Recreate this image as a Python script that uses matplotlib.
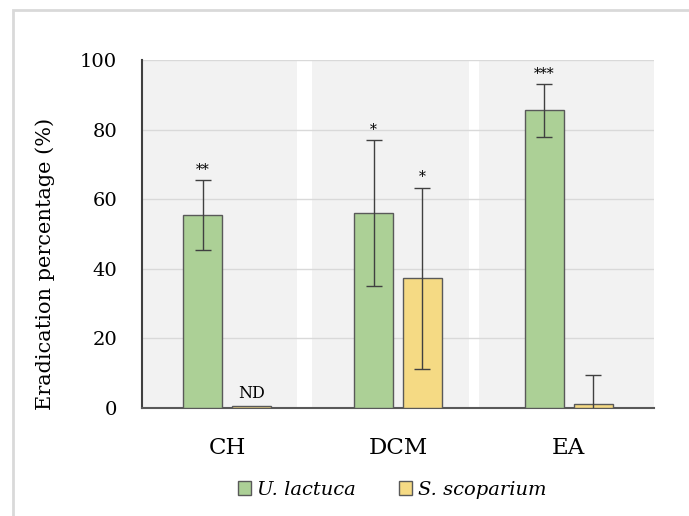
import matplotlib
matplotlib.use('Agg')
import matplotlib.pyplot as plt
from matplotlib.patches import Rectangle, Patch
import numpy as np

categories = ['CH', 'DCM', 'EA']
ulactuca = [55.5, 56.0, 85.5]
ulactuca_err = [10.0, 21.0, 7.5]
sscoparium = [0.6, 37.3, 1.2]
sscoparium_err = [0.0, 26.0, 8.3]
ulactuca_sig = ['**', '*', '***']
sscoparium_sig = ['ND', '*', '']

matplotlib.rc('font', family=['DejaVu Serif'])

green = '#acd096'
yellow = '#f5da84'
edge = '#595959'

fig = plt.figure(figsize=(6.89, 5.16), dpi=100)
# light frame around the chart
fig.add_artist(Rectangle((13/689, -0.1), 1.2, 1 - 10/516 + 0.1, transform=fig.transFigure,
                         fill=False, edgecolor='#d9d9d9', linewidth=2))

ax = fig.add_axes([142/689, 108/516, 512/689, 348/516])
x = np.arange(len(categories))
w = 0.228
off = 0.143

# gray background bands per category
band_left = [-0.5, 0.496, 1.474]
band_right = [0.41, 1.416, 2.5]
for l, r in zip(band_left, band_right):
    ax.axvspan(l, r, color='#f2f2f2', zorder=0, linewidth=0)

for yv in [20, 40, 60, 80, 100]:
    ax.axhline(yv, color='#d9d9d9', linewidth=1, zorder=1)

ebar = dict(ecolor='#404040', elinewidth=1, capsize=6, capthick=1)
ax.bar(x - off, ulactuca, w, yerr=ulactuca_err, color=green, edgecolor=edge,
       linewidth=1, error_kw=ebar, zorder=3, label='U. lactuca')
yerr_s = [e if e > 0 else np.nan for e in sscoparium_err]
ax.bar(x + off, sscoparium, w, yerr=yerr_s, color=yellow, edgecolor=edge,
       linewidth=1, error_kw=ebar, zorder=3, label='S. scoparium')

for i in range(len(categories)):
    if ulactuca_sig[i]:
        ax.text(x[i] - off, ulactuca[i] + ulactuca_err[i] + 1.0, ulactuca_sig[i],
                ha='center', va='bottom', fontsize=10, zorder=4)
    if sscoparium_sig[i]:
        fs = 11.5 if sscoparium_sig[i] == 'ND' else 10
        ax.text(x[i] + off, sscoparium[i] + sscoparium_err[i] + 1.0, sscoparium_sig[i],
                ha='center', va='bottom', fontsize=fs, zorder=4)

ax.set_xlim(-0.5, 2.5)
ax.set_ylim(0, 100)
ax.set_yticks([0, 20, 40, 60, 80, 100])
ax.set_xticks(x)
ax.set_xticklabels(categories, fontsize=16.5)
ax.tick_params(axis='y', labelsize=14, length=0, pad=18)
ax.tick_params(axis='x', length=0, pad=21)
for s in ['top', 'right']:
    ax.spines[s].set_visible(False)
ax.spines['left'].set_color('#404040')
ax.spines['left'].set_linewidth(1.5)
ax.spines['bottom'].set_color('#595959')
ax.spines['bottom'].set_linewidth(1.5)
ax.set_ylabel('Eradication percentage (%)', fontsize=15)
ax.yaxis.set_label_coords(-0.17, 0.414)

handles = [Patch(facecolor=green, edgecolor=edge, linewidth=1),
           Patch(facecolor=yellow, edgecolor=edge, linewidth=1)]
fig.legend(handles, ['U. lactuca', 'S. scoparium'], loc='center',
           bbox_to_anchor=(392/689, 1 - 490/516), ncol=2, frameon=False,
           prop={'style': 'italic', 'size': 14}, handlelength=0.7, handleheight=0.7,
           handletextpad=0.3, columnspacing=2.2)

fig.savefig('out.png', dpi=100)
